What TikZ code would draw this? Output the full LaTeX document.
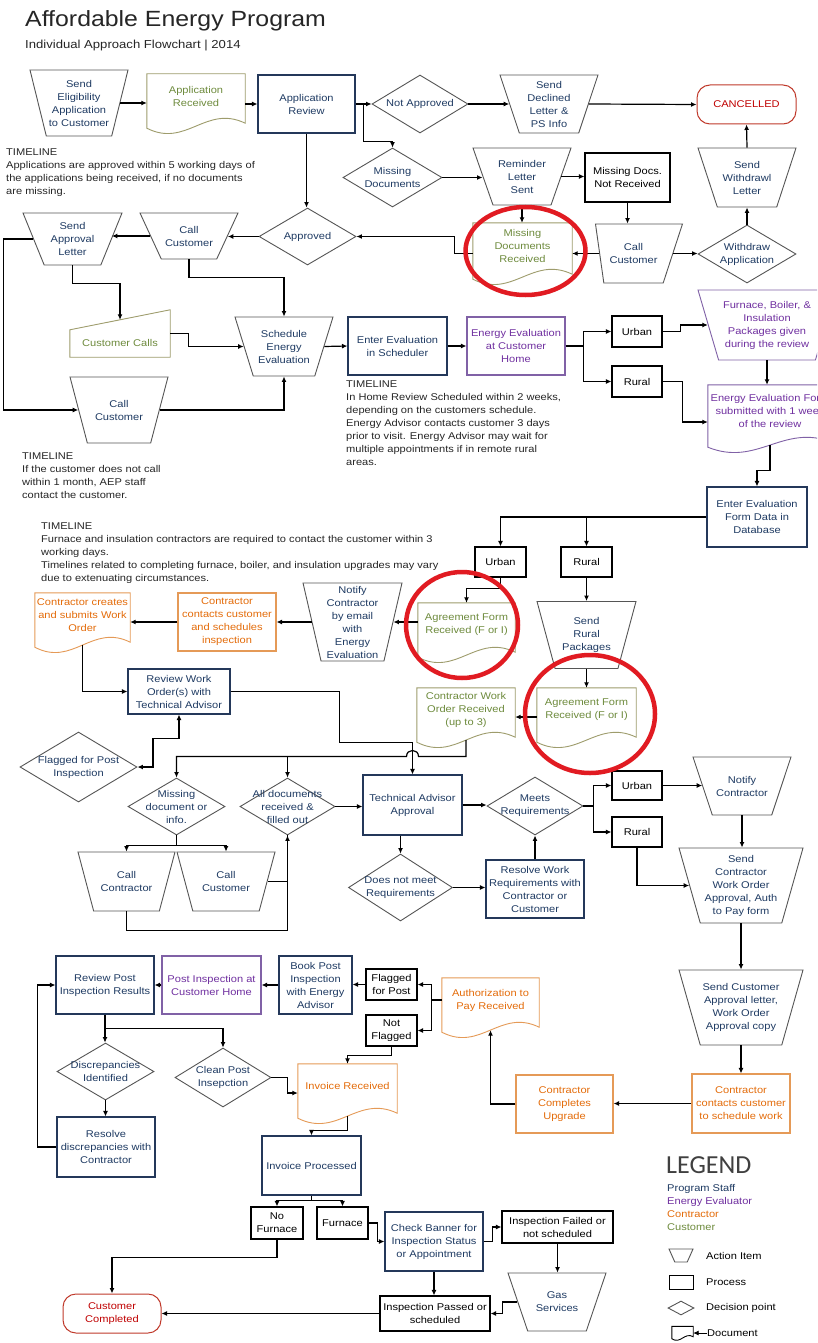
\documentclass[tikz,border=0pt]{standalone}
\usepackage{fontspec}
\setmainfont{Liberation Sans}[FakeStretch=1.13]
\newfontfamily\legendfont{Carlito}
\usetikzlibrary{shapes.geometric,arrows.meta,calc}

% role colours
\definecolor{staff}{HTML}{1F3B63}
\definecolor{staffline}{HTML}{24385A}
\definecolor{evalc}{HTML}{7030A0}
\definecolor{evalline}{HTML}{8061A6}
\definecolor{contrt}{HTML}{E46C0A}
\definecolor{contrline}{HTML}{E59A57}
\definecolor{custt}{HTML}{6E8B3D}
\definecolor{custline}{HTML}{9E9C6C}
\definecolor{endred}{HTML}{C00000}
\definecolor{endline}{HTML}{C0392B}
\definecolor{shapeline}{HTML}{555555}
\definecolor{markred}{HTML}{E11B22}

\tikzset{
  fbase/.style={font=\fontsize{9.8}{13}\selectfont, align=center, inner sep=1pt},
  sz/.style 2 args={minimum width=#1, minimum height=#2},
  procbox/.style={fbase, rectangle, draw=staffline, text=staff, line width=1.1pt},
  plainbox/.style={fbase, rectangle, draw=black, text=black, line width=1.1pt},
  evalbox/.style={procbox, draw=evalline, text=evalc},
  contrbox/.style={procbox, draw=contrline, text=contrt},
  termbox/.style={fbase, rectangle, rounded corners=13pt, draw=endline, text=endred, line width=1pt},
  actbox/.style={trapezium, shape border rotate=180, trapezium stretches=true,
    trapezium angle=73, draw=shapeline, line width=0.9pt, inner sep=2pt},
  decbox/.style={diamond, draw=shapeline, line width=0.9pt, inner sep=1pt},
  docbox/.style={fbase, rectangle, inner sep=0pt},
  lbltext/.style={fbase, text=staff},
  notetext/.style={fbase, align=left, anchor=north west, text=black!85, inner sep=0pt},
  arr/.style={line width=1.2pt, -{Latex[length=5.5pt,width=5pt]}},
  biarr/.style={line width=1.2pt, {Latex[length=5.5pt,width=5pt]}-{Latex[length=5.5pt,width=5pt]}},
  wire/.style={line width=1.2pt},
  ring/.style={draw=markred, line width=4.5pt},
}

% outlined shape with its text set in a separate node on top
\newcommand\flowshape[5]{%
  \node[#1] (#2) at (#3) {};
  \node[lbltext,#4] (#2t) at (#2.center) {#5};}

\begin{document}
\begin{tikzpicture}[x=1pt,y=-1pt]
\useasboundingbox (0,0) rectangle (817,1343);
\fill[white] (0,0) rectangle (817,1343);
\clip (0,0) rectangle (817,1343);

% ---------- heading ----------
\node[anchor=base west, font=\fontsize{22}{26}\selectfont, text=black!85, inner sep=0] (title) at (25,27) {Affordable Energy Program};
\node[anchor=base west, font=\fontsize{11.6}{14}\selectfont, text=black!85, inner sep=0] (subtitle) at (25,49) {Individual Approach Flowchart | 2014};

% ---------- application stage ----------
\flowshape{actbox, sz={98}{66}, trapezium angle=76}{sea}{79,103}{}{Send\\Eligibility\\Application\\to Customer}
\node[docbox, sz={98}{44}, text=custt] (apprec) at (196,96) {Application\\Received};
\node[procbox, sz={97}{58}] (ar) at (306.5,104) {Application\\Review};
\flowshape{decbox, sz={96}{58}}{na}{420,104}{}{Not Approved}
\flowshape{actbox, sz={98}{58}, trapezium angle=72}{sdl}{549,104}{}{Send\\Declined\\Letter \&\\PS Info}
\node[termbox, sz={99}{39}] (cancel) at (746.5,104.5) {CANCELLED};

\flowshape{decbox, sz={99}{59}}{mdoc}{392.5,177.5}{}{Missing\\Documents}
\flowshape{actbox, sz={98}{57}, trapezium angle=71}{rls}{522,176.5}{}{Reminder\\Letter\\Sent}
\node[plainbox, sz={85}{49}] (mdnr) at (627.5,177.5) {Missing Docs.\\Not Received};
\flowshape{actbox, sz={98}{59}, trapezium angle=72}{swl}{747,177.5}{}{Send\\Withdrawl\\Letter}

\flowshape{actbox, sz={99}{52}, trapezium angle=69.5}{sal}{72.5,239}{}{Send\\Approval\\Letter}
\flowshape{actbox, sz={98}{46}, trapezium angle=69}{cc1}{189,236}{}{Call\\Customer}
\flowshape{decbox, sz={97}{57}}{appr}{307.5,236.5}{}{Approved}
\node[docbox, sz={99}{46}, text=custt] (mdr) at (522.5,246) {Missing\\Documents\\Received};
\flowshape{actbox, sz={87}{59}, trapezium left angle=72, trapezium right angle=82}{cc2}{633.5,253.5}{}{Call\\Customer}
\flowshape{decbox, sz={98}{58}}{wa}{747,254}{}{Withdraw\\Application}

\node[notetext] (tl1) at (6,148.5) {TIMELINE\\Applications are approved within 5 working days of\\the applications being received, if no documents\\are missing.};

% ---------- evaluation stage ----------
\node[docbox, sz={100}{47}] (cucall) at (120,333.5) {};
\node[fbase, text=custt] (cucallt) at ($(cucall.center)+(0,9)$) {Customer Calls};
\flowshape{actbox, sz={98}{59}, trapezium angle=73.5}{sch}{284,346.5}{}{Schedule\\Energy\\Evaluation}
\node[procbox, sz={99}{58}] (eeis) at (397.5,346) {Enter Evaluation\\in Scheduler};
\node[evalbox, sz={98}{58}] (eeh) at (516,346) {Energy Evaluation\\at Customer\\Home};
\node[plainbox, sz={50}{31}] (urb1) at (637,331.5) {Urban};
\node[plainbox, sz={50}{31}] (rur1) at (637,381.5) {Rural};
\flowshape{actbox, sz={138}{70}, trapezium angle=78, draw=evalline}{furn}{767,325}{text=evalc}{Furnace, Boiler, \&\\Insulation\\Packages given\\during the review}
\node[docbox, sz={124}{52}, text=evalc] (eef) at (770,411) {Energy Evaluation Form\\submitted with 1 week\\of the review};
\flowshape{actbox, sz={98}{66}, trapezium angle=74.7}{cc3}{119,410}{}{Call\\Customer}

\node[notetext] (tl2) at (346,381) {TIMELINE\\In Home Review Scheduled within 2 weeks,\\depending on the customers schedule.\\Energy Advisor contacts customer 3 days\\prior to visit. Energy Advisor may wait for\\multiple appointments if in remote rural\\areas.};
\node[notetext] (tl3) at (22,453) {TIMELINE\\If the customer does not call\\within 1 month, AEP staff\\contact the customer.};

% ---------- contractor stage ----------
\node[procbox, sz={100}{60}] (eefd) at (757,517) {Enter Evaluation\\Form Data in\\Database};
\node[plainbox, sz={51}{30}] (urb2) at (500.5,562) {Urban};
\node[plainbox, sz={51}{30}] (rur2) at (586.5,562) {Rural};
\node[notetext] (tl4) at (41,523) {TIMELINE\\Furnace and insulation contractors are required to contact the customer within 3\\working days.\\Timelines related to completing furnace, boiler, and insulation upgrades may vary\\due to extenuating circumstances.};

\node[docbox, sz={95}{44}, text=contrt] (ccwo) at (82.5,615) {Contractor creates\\and submits Work\\Order};
\node[contrbox, sz={98}{58}] (ccs) at (227,622) {Contractor\\contacts customer\\and schedules\\inspection};
\flowshape{actbox, sz={99}{78}, trapezium angle=74}{nce}{352.5,622}{}{Notify\\Contractor\\by email\\with\\Energy\\Evaluation}
\node[docbox, sz={97}{44}, text=custt] (afr1) at (466.5,625) {Agreement Form\\Received (F or I)};
\flowshape{actbox, sz={99}{67}, trapezium angle=74}{srp}{586.5,635}{}{Send\\Rural\\Packages}
\node[docbox, sz={99}{44}, text=custt] (afr2) at (586.5,710) {Agreement Form\\Received (F or I)};
\node[docbox, sz={98}{44}, text=custt] (cwor) at (466,710) {Contractor Work\\Order Received\\(up to 3)};

\node[procbox, sz={102}{45}] (rwo) at (179,691.5) {Review Work\\Order(s) with\\Technical Advisor};
\flowshape{decbox, sz={117}{70}}{ffpi}{78.5,767}{}{Flagged for Post\\Inspection}
\flowshape{decbox, sz={97}{57}}{mdi}{176.5,806.5}{}{Missing\\document or\\info.}
\flowshape{decbox, sz={95}{57}}{adr}{287.5,806.5}{}{All documents\\received \&\\filled out}
\node[procbox, sz={99}{60}] (taa) at (412.5,805) {Technical Advisor\\Approval};
\flowshape{decbox, sz={96}{58}}{mr}{535,806}{}{Meets\\Requirements}
\node[plainbox, sz={50}{29}] (urb3) at (637,785.5) {Urban};
\node[plainbox, sz={50}{30}] (rur3) at (637,832) {Rural};
\flowshape{actbox, sz={98}{58}, trapezium angle=72}{nc2}{742,786}{}{Notify\\Contractor}
\flowshape{actbox, sz={97}{59}, trapezium angle=76.6}{ccon}{126.5,881.5}{}{Call\\Contractor}
\flowshape{actbox, sz={98}{59}, trapezium angle=76.6}{cc4}{226,881.5}{}{Call\\Customer}
\flowshape{decbox, sz={104}{67}}{dnm}{400.5,887.5}{}{Does not meet\\Requirements}
\node[procbox, sz={98}{58}] (rwr) at (535,889) {Resolve Work\\Requirements with\\Contractor or\\Customer};
\flowshape{actbox, sz={124}{75}, trapezium angle=75.4}{scwo}{741,885.5}{}{Send\\Contractor\\Work Order\\Approval, Auth\\to Pay form}
\flowshape{actbox, sz={124}{75}, trapezium angle=75.4}{scal}{741,1007.5}{}{Send Customer\\Approval letter,\\Work Order\\Approval copy}

% ---------- inspection and payment stage ----------
\node[procbox, sz={98}{58}] (rpir) at (105,985) {Review Post\\Inspection Results};
\node[evalbox, sz={99}{58}] (pich) at (211.5,985) {Post Inspection at\\Customer Home};
\node[procbox, sz={73}{58}] (bpi) at (315.5,985) {Book Post\\Inspection\\with Energy\\Advisor};
\node[plainbox, sz={51}{31}] (ffp) at (391.5,984.5) {Flagged\\for Post};
\node[plainbox, sz={51}{31}] (nf) at (391.5,1030.5) {Not\\Flagged};
\node[docbox, sz={97}{44}, text=contrt] (atp) at (490.5,1000) {Authorization to\\Pay Received};
\flowshape{decbox, sz={97}{57}}{disc}{105.5,1071.5}{}{Discrepancies\\Identified}
\flowshape{decbox, sz={96}{59}}{cpi}{223,1077.5}{}{Clean Post\\Insepction}
\node[docbox, sz={99}{44}, text=contrt] (ir) at (347.5,1086) {Invoice Received};
\node[contrbox, sz={97}{58}] (ccu) at (564.5,1104) {Contractor\\Completes\\Upgrade};
\node[contrbox, sz={98}{59}] (ccsw) at (741,1103.5) {Contractor\\contacts customer\\to schedule work};
\node[procbox, sz={98}{60}] (rdc) at (106,1147) {Resolve\\discrepancies with\\Contractor};
\node[procbox, sz={99}{59}] (ip) at (311.5,1165.5) {Invoice Processed};
\node[plainbox, sz={52}{32}] (nofu) at (277,1223) {No\\Furnace};
\node[plainbox, sz={51}{32}] (fu) at (342.5,1223) {Furnace};
\node[procbox, sz={98}{59}] (cb) at (434,1241.5) {Check Banner for\\Inspection Status\\or Appointment};
\node[plainbox, sz={111}{32}] (ifn) at (557.5,1227) {Inspection Failed or\\not scheduled};
\flowshape{actbox, sz={98}{58}, trapezium angle=71.4}{gas}{557,1302}{}{Gas\\Services}
\node[plainbox, sz={110}{35}] (ipas) at (435,1313.5) {Inspection Passed or\\scheduled};
\node[termbox, sz={98}{39}] (done) at (112,1313.5) {Customer\\Completed};

% ---------- document and manual-input outlines ----------
\foreach \n/\c in {apprec/custline, mdr/custline, afr1/custline, afr2/custline, cwor/custline,
                   ccwo/contrline, eef/evalline, atp/contrline, ir/contrline}
  \draw[\c, line width=0.9pt] (\n.north west) -- ($(\n.south west)+(0,10)$)
    .. controls ($(\n.south west)!0.4!(\n.south east)+(0,30)$) and ($(\n.south west)!0.6!(\n.south east)+(0,-14)$)
    .. ($(\n.south east)+(0,5)$) -- (\n.north east) -- cycle;
\draw[custline, line width=0.9pt] (cucall.south west) -- ($(cucall.north west)+(0,20)$) -- (cucall.north east) -- (cucall.south east) -- cycle;

% ---------- connectors ----------
\draw[arr] (sea.east) -- (sea.east -| apprec.west);
\draw[arr] (apprec.east |- ar.west) -- (ar.west);
\draw[arr] (ar.east) -- (na.west);
\draw[arr] ($(ar.east)+(8,0)$) |- ($(mdoc.north)+(0,-6)$) -- (mdoc.north);
\draw[arr] (na.east) -- (sdl.west);
\draw[arr] (sdl.east) -- (cancel.west);
\draw[arr] (mdoc.east) -- (mdoc.east -| rls.west);
\draw[arr] (rls.east) -- (rls.east -| mdnr.west);
\draw[arr] (rls.south) -- (rls.south |- mdr.north);
\draw[arr] (mdnr.south) -- (mdnr.south |- cc2.north);
\draw[arr] (cc2.west) -- (cc2.west -| mdr.east);
\draw[arr] (cc2.east) -- (cc2.east -| wa.west);
\draw[arr] (wa.north) -- (swl.south);
\draw[arr] (swl.north) -- (cancel.south);
\draw[arr] (mdr.west |- cc2.west) -- ++(-18,0) |- (appr.east);
\draw[arr] (ar.south) -- (ar.south |- appr.north);
\draw[arr] (appr.west) -- (appr.west -| cc1.east);
\draw[arr] (cc1.west) -- (cc1.west -| sal.east);
\draw[arr] (sal.west) -- ++(-30,0) |- (cc3.west);
\draw[arr] (sal.south) -- ++(0,18) -| ($(cucall.north)+(0,10)$);
\draw[arr] (cc1.south) -- ++(0,18) -| (sch.north);
\draw[arr] (cucall.east) -- ++(18,0) |- (sch.west);
\draw[arr] (cc3.east) -| (sch.south);
\draw[arr] (sch.east) -- (eeis.west);
\draw[arr] (eeis.east) -- (eeh.west);
\draw[arr] (eeh.east) -- ++(18,0) |- (urb1.west);
\draw[arr] ($(eeh.east)+(18,0)$) |- (rur1.west);
\draw[arr] (urb1.east) -- ++(18,0) |- (furn.west);
\draw[arr] (rur1.east) -- ++(20,0) |- ($(eef.west)+(0,11)$);
\draw[arr] (furn.south) -- (furn.south |- eef.north);
\draw[arr] ($(eef.south)+(0,8)$) -- ++(0,25) -| (eefd.north);
\draw[arr] (eefd.west) -| (urb2.north);
\draw[arr] (eefd.west -| rur2.north) -- (rur2.north);
\draw[arr] (urb2.south) -- ++(0,11) -| (afr1.north);
\draw[arr] (rur2.south) -- (srp.north);
\draw[arr] (srp.south) -- (afr2.north);
\draw[arr] ($(afr2.west)+(0,7)$) -- ($(cwor.east)+(0,7)$);
\draw[arr] (afr1.west |- nce.east) -- (nce.east);
\draw[arr] (nce.west) -- (ccs.east);
\draw[arr] (ccs.west) -- (ccs.west -| ccwo.east);
\draw[arr] ($(ccwo.south)+(0,8)$) |- (rwo.west);
\draw[arr] (rwo.east) -- ++(109,0) |- ($(taa.north)+(0,-32)$) -- (taa.north);
\coordinate (hopR) at ($(taa.north)+(6,-18)$);
\coordinate (hopL) at ($(taa.north)+(-6,-18)$);
\draw[arr] ($(cwor.south)+(0,8)$) |- (hopR) .. controls +(0,-8) and +(0,-8) .. (hopL) -| (mdi.north);
\draw[arr] (adr.north |- hopL) -- (adr.north);
\draw[biarr] (rwo.south) |- ($(rwo.south)+(-26,24)$) |- (ffpi.east);
\draw[arr] (adr.east) -- (adr.east -| taa.west);
\draw[wire] (mdi.south) -- ++(0,10);
\draw[arr] ($(mdi.south)+(0,10)$) -| (ccon.north);
\draw[arr] ($(mdi.south)+(0,10)$) -| (cc4.north);
\draw[arr] (cc4.east) -| (adr.south);
\draw[wire] (ccon.south) -- ++(0,19) -| (adr.south);
\draw[arr] (taa.east) -- (taa.east -| mr.west);
\draw[arr] (dnm.north |- taa.south) -- (dnm.north);
\draw[arr] (dnm.east) -- (dnm.east -| rwr.west);
\draw[arr] (rwr.north) -- (mr.south);
\draw[arr] (mr.east) -- ++(10,0) |- (urb3.west);
\draw[arr] ($(mr.east)+(10,0)$) |- (rur3.west);
\draw[arr] (urb3.east) -- (urb3.east -| nc2.west);
\draw[arr] (nc2.south) -- (nc2.south |- scwo.north);
\draw[arr] (rur3.south) |- (scwo.west);
\draw[arr] (scwo.south) -- (scal.north);
\draw[arr] (scal.south) -- (ccsw.north);
\draw[arr] (ccsw.west) -- (ccsw.west -| ccu.east);
\draw[arr] (ccu.west) -| ($(atp.south)+(0,8)$);
\draw[arr] (atp.west) -- ++(-10,0) |- (ffp.east);
\draw[arr] ($(atp.west)+(-10,0)$) |- (nf.east);
\draw[arr] (ffp.west) -- (ffp.west -| bpi.east);
\draw[arr] (bpi.west) -- (pich.east);
\draw[arr] (pich.west) -- (rpir.east);
\draw[arr] (rpir.south) -- (rpir.south |- disc.north);
\draw[arr] ($(rpir.south)+(0,14)$) -| (cpi.north);
\draw[arr] (cpi.east) -- ++(16,0) |- ($(ir.west)+(0,7)$);
\draw[arr] (nf.south) -- ++(0,9) -| (ir.north);
\draw[arr] (disc.south) -- (disc.south |- rdc.north);
\draw[arr] (rdc.west) -- ++(-19,0) |- (rpir.west);
\draw[arr] ($(ir.south)+(0,8)$) -- ++(0,14) -| (ip.north);
\draw[wire] (ip.south) -- ++(0,5);
\draw[arr] ($(ip.south)+(0,5)$) -| (nofu.north);
\draw[arr] ($(ip.south)+(0,5)$) -| (fu.north);
\draw[arr] (nofu.south) -- ++(0,18) -| (done.north);
\draw[arr] (fu.east) -- ++(9,0) |- (cb.west);
\draw[arr] (cb.east) -- ++(9,0) |- (ifn.west);
\draw[arr] (ifn.south) -- (ifn.south |- gas.north);
\draw[arr] (cb.south) -- (cb.south |- ipas.north);
\draw[arr] (gas.west) -- ++(-15,0) |- (ipas.east);
\draw[arr] (ipas.west) -- (done.east);

% ---------- legend ----------
\node[anchor=base west, font=\legendfont\fontsize{26}{26}\selectfont, text=black!75, inner sep=0] (legend) at (666,1173) {LEGEND};
\node[fbase, anchor=base west, text=staff, inner sep=0] (lgstaff) at (667,1191.5) {Program Staff};
\node[fbase, anchor=base west, text=evalc, inner sep=0] (lgeval) at (667,1204) {Energy Evaluator};
\node[fbase, anchor=base west, text=contrt, inner sep=0] (lgcontr) at (667,1217) {Contractor};
\node[fbase, anchor=base west, text=custt, inner sep=0] (lgcust) at (667,1230) {Customer};
\node[actbox, sz={24}{13}, trapezium angle=65, line width=0.9pt] (lgact) at (681,1255.5) {};
\node[fbase, anchor=west, inner sep=0] (lgactt) at (706,1255.5) {Action Item};
\node[plainbox, sz={24}{14}, line width=0.9pt] (lgproc) at (681,1282) {};
\node[fbase, anchor=west, inner sep=0] (lgproct) at (706,1282) {Process};
\node[decbox, sz={26}{14}, line width=0.9pt] (lgdec) at (681,1308) {};
\node[fbase, anchor=west, inner sep=0] (lgdect) at (706,1308) {Decision point};
\node[docbox, sz={21}{9}] (lgdoc) at (682.5,1331) {};
\draw[line width=0.9pt] (lgdoc.north west) -- ($(lgdoc.south west)+(0,3)$)
  .. controls ($(lgdoc.south west)!0.4!(lgdoc.south east)+(0,9)$) and ($(lgdoc.south west)!0.6!(lgdoc.south east)+(0,-4)$)
  .. ($(lgdoc.south east)+(0,1)$) -- (lgdoc.north east) -- cycle;
\node[fbase, anchor=west, inner sep=0] (lgdoct) at (707,1333) {Document};
\draw[arr, line width=0.8pt] (lgdoct.west) -- (lgdoc.east |- lgdoct.west);

% ---------- red highlight rings ----------
\draw[ring] (525.5,251) ellipse [x radius=60, y radius=44];
\draw[ring] (462,625) ellipse [x radius=56, y radius=53];
\draw[ring] (590,714) ellipse [x radius=65, y radius=59];
\end{tikzpicture}
\end{document}
